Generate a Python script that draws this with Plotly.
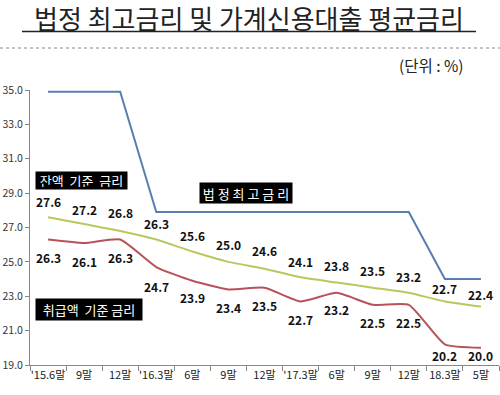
import plotly.graph_objects as go

categories = ["'15.6말", "9말", "12말", "'16.3말", "6말", "9말", "12말",
              "'17.3말", "6말", "9말", "12말", "18.3말", "5말"]
legal_max = [34.9, 34.9, 34.9, 27.9, 27.9, 27.9, 27.9, 27.9, 27.9, 27.9, 27.9, 24.0, 24.0]
balance_rate = [27.6, 27.2, 26.8, 26.3, 25.6, 25.0, 24.6, 24.1, 23.8, 23.5, 23.2, 22.7, 22.4]
new_loan_rate = [26.3, 26.1, 26.3, 24.7, 23.9, 23.4, 23.5, 22.7, 23.2, 22.5, 22.5, 20.2, 20.0]
y_ticks = [19, 21, 23, 25, 27, 29, 31, 33, 35]

xpos = list(range(len(categories)))

# label pixel offsets (style only)
green_shift = [16, 15, 18, 16, 16, 17, 18, 16, 17, 17, 16, 13, 12]
red_shift = [-18, -19, -18, -19, -17, -18, -18, -18, -17, -18, -18, -11, -8]

FONT = "Noto Sans CJK KR"
BLUE = "#5A7DB0"
RED = "#B8525A"
GREEN = "#BAC75E"

W, H = 500, 395
ML, MR, MT, MB = 30, 1, 90, 30
PW, PH = W - ML - MR, H - MT - MB


def px(x):
    return (x - ML) / PW


def py(y):
    return (H - MB - y) / PH


fig = go.Figure()
fig.add_trace(go.Scatter(x=xpos, y=legal_max, mode="lines",
                         line=dict(color=BLUE, width=2)))
fig.add_trace(go.Scatter(x=xpos, y=balance_rate, mode="lines",
                         line=dict(color=GREEN, width=2, shape="spline", smoothing=0.5)))
fig.add_trace(go.Scatter(x=xpos, y=new_loan_rate, mode="lines",
                         line=dict(color=RED, width=2, shape="spline", smoothing=0.5)))

annotations = []
for i, v in zip(xpos, balance_rate):
    annotations.append(dict(x=i, y=v, xref="x", yref="y", text=f"<b>{v:.1f}</b>",
                            showarrow=False, yshift=green_shift[i], yanchor="middle",
                            font=dict(family=FONT, size=12, color="#111")))
for i, v in zip(xpos, new_loan_rate):
    annotations.append(dict(x=i, y=v, xref="x", yref="y", text=f"<b>{v:.1f}</b>",
                            showarrow=False, yshift=red_shift[i], yanchor="middle",
                            font=dict(family=FONT, size=12, color="#111")))


def box(text, xc, yc, w, h):
    return dict(x=px(xc), y=py(yc), xref="paper", yref="paper",
                text=text, showarrow=False, xanchor="center", yanchor="middle",
                bgcolor="black", width=w, height=h, borderpad=2,
                font=dict(family=FONT, size=13, color="white"))


annotations.append(box("잔액  기준  금리", 81.5, 180, 87, 13))
annotations.append(box("법 정 최 고 금 리", 246, 193, 88, 16))
annotations.append(box("취급액  기준 금리", 89, 309, 102, 17))

annotations.append(dict(x=px(249), y=py(17), xref="paper", yref="paper",
                        text="법정 최고금리 및 가계신용대출 평균금리", showarrow=False,
                        xanchor="center", yanchor="middle",
                        font=dict(family=FONT, size=26, color="#222")))
annotations.append(dict(x=px(466), y=py(65), xref="paper", yref="paper",
                        text="(단위 : %)", showarrow=False,
                        xanchor="right", yanchor="middle",
                        font=dict(family=FONT, size=15.5, color="#222")))

shapes = [
    dict(type="line", xref="paper", yref="paper", x0=px(22), x1=px(476),
         y0=py(31.5), y1=py(31.5), line=dict(color="#222", width=1.5)),
    dict(type="line", xref="paper", yref="paper", x0=px(0), x1=px(500),
         y0=py(48), y1=py(48), line=dict(color="#888", width=1, dash="dot")),
]

fig.update_layout(
    width=W, height=H,
    margin=dict(l=ML, r=MR, t=MT, b=MB, autoexpand=False),
    paper_bgcolor="white", plot_bgcolor="white",
    showlegend=False,
    annotations=annotations,
    shapes=shapes,
    font=dict(family=FONT, color="#222"),
    xaxis=dict(tickmode="array", tickvals=xpos, ticktext=categories, ticks="",
               showline=True, linecolor="#888", linewidth=1, automargin=False,
               showgrid=False, zeroline=False, tickangle=0,
               tickfont=dict(family=FONT, size=11, color="#222"),
               range=[-0.5, len(categories) - 0.5],
               minor=dict(tickmode="linear", tick0=-0.5, dtick=1, ticks="outside",
                          ticklen=5, tickcolor="#888", showgrid=False)),
    yaxis=dict(range=[19, 35], tickvals=y_ticks, tickformat=".1f", ticks="outside",
               ticklen=4, tickcolor="#888", showline=True, linecolor="#888",
               linewidth=1, showgrid=False, zeroline=False, automargin=False,
               tickfont=dict(family=FONT, size=10.5, color="#333")),
)

fig.write_html("out.html", config={"displayModeBar": False},
               post_script="document.body.style.margin='0';document.body.style.overflow='hidden';")
